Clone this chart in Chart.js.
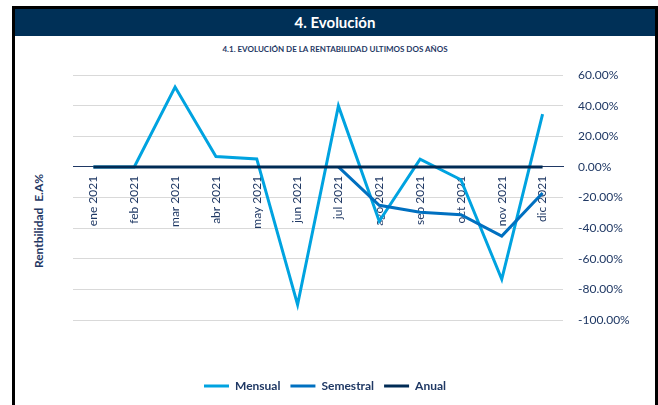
<!DOCTYPE html>
<html>
<head>
<meta charset="utf-8">
<script src="https://cdn.jsdelivr.net/npm/chart.js@4"></script>
<style>
  body { margin: 0; background: #fff; font-family: Lato, "Open Sans", sans-serif; }
  #frame { position: absolute; left: 12px; top: 6px; width: 640px; height: 420px; border: 3px solid #000; }
  #header { position: absolute; left: 15px; top: 9px; width: 640px; height: 27px; background: #003057;
            color: #fff; font-weight: bold; font-size: 15px; line-height: 27px; text-align: center; }
  #sub { position: absolute; left: 15px; top: 44px; width: 640px; text-align: center; color: #1F3864;
         font-weight: bold; font-size: 8px; }
  #ytitle { position: absolute; left: 38px; top: 221px; transform: translate(-50%, -50%) rotate(-90deg);
            white-space: pre; color: #1F3864; font-weight: bold; font-size: 12px; }
  #wrap { position: absolute; left: 0; top: 0; width: 658px; height: 405px; }
</style>
</head>
<body>
<div id="frame"></div>
<div id="header">4. Evolución</div>
<div id="sub">4.1. EVOLUCIÓN DE LA RENTABILIDAD ULTIMOS DOS AÑOS</div>
<div id="ytitle">Rentbilidad  E.A%</div>
<div id="wrap"><canvas id="myChart" width="658" height="405"></canvas></div>
<script>
var labels = ['ene 2021', 'feb 2021', 'mar 2021', 'abr 2021', 'may 2021', 'jun 2021',
              'jul 2021', 'ago 2021', 'sep 2021', 'oct 2021', 'nov 2021', 'dic 2021'];
var mensual = [0, 0, 52.1, 6.7, 5.2, -90, 39.8, -35.5, 5, -8.4, -73.4, 34.4];
var semestral = [null, null, null, null, null, null, 0, -25.1, -29.7, -31.2, -45.2, -17.1];
var anual = [0, 0, 0, 0, 0, 0, 0, 0, 0, 0, 0, 0];
var yTicks = [60, 40, 20, 0, -20, -40, -60, -80, -100];

var navy = '#1F3864';

var ctx = document.getElementById('myChart');
var myChart = new Chart(ctx, {
  type: 'line',
  data: {
    labels: labels,
    datasets: [
      { label: 'Mensual', data: mensual, borderColor: '#00A3E0', backgroundColor: '#00A3E0',
        borderWidth: 3, pointRadius: 0, tension: 0, order: 3 },
      { label: 'Semestral', data: semestral, borderColor: '#0070C0', backgroundColor: '#0070C0',
        borderWidth: 3, pointRadius: 0, tension: 0, order: 2 },
      { label: 'Anual', data: anual, borderColor: '#002B55', backgroundColor: '#002B55',
        borderWidth: 3, pointRadius: 0, tension: 0, order: 1 }
    ]
  },
  options: {
    responsive: false,
    animation: false,
    layout: { padding: { top: 75, right: 8, bottom: 3, left: 0 } },
    plugins: {
      tooltip: { enabled: false },
      legend: {
        position: 'bottom',
        title: { display: true, text: '', font: { size: 10 }, padding: { top: 38, bottom: 0 } },
        labels: {
          usePointStyle: true,
          pointStyle: 'line',
          pointStyleWidth: 25,
          padding: 10,
          color: navy,
          font: { family: 'Lato', size: 12, weight: 'bold' },
          sort: function (a, b) { return a.datasetIndex - b.datasetIndex; }
        }
      }
    },
    scales: {
      x: {
        position: { y: 0 },
        offset: true,
        grid: { display: false, drawTicks: false },
        border: { display: true, color: navy, width: 1 },
        ticks: {
          color: navy, minRotation: 90, maxRotation: 90, padding: 9, autoSkip: false,
          font: { family: 'Lato', size: 12 }
        }
      },
      y: {
        position: 'right',
        min: -100,
        max: 60,
        afterFit: function (s) { s.width = 87; },
        afterBuildTicks: function (s) { s.ticks = yTicks.map(function (v) { return { value: v }; }); },
        grid: { color: '#D9D9D9', lineWidth: 1, drawTicks: false },
        border: { display: false },
        ticks: {
          color: navy, padding: 15,
          font: { family: 'Lato', size: 12 },
          callback: function (v) { return v.toFixed(2) + '%'; }
        }
      },
      yl: {
        axis: 'y',
        position: 'left',
        min: -100,
        max: 60,
        afterFit: function (s) { s.width = 73; },
        grid: { display: false, drawTicks: false },
        border: { display: false },
        ticks: { display: false }
      }
    }
  }
});
</script>
</body>
</html>
